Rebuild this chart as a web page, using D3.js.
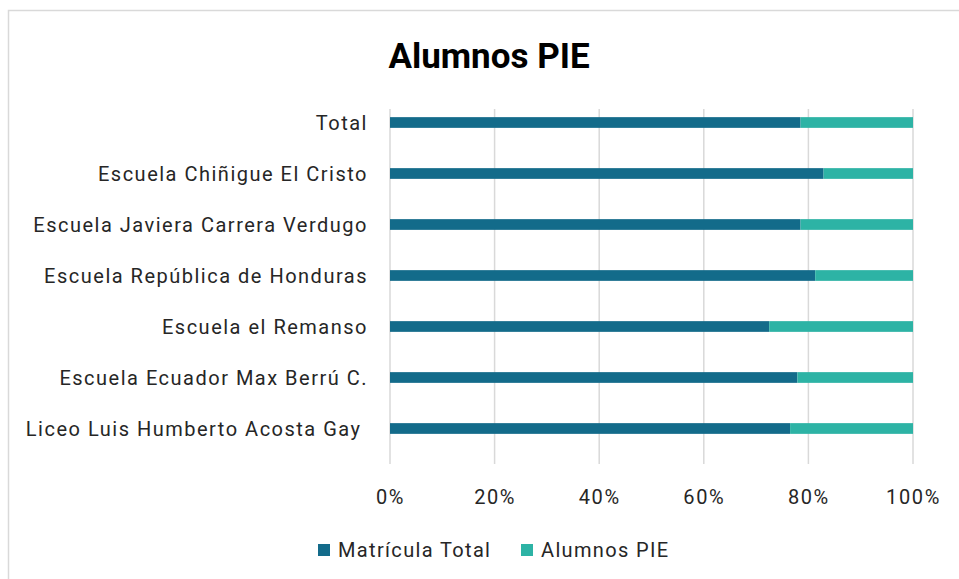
<!DOCTYPE html>
<html>
<head>
<meta charset="utf-8">
<script src="https://cdn.jsdelivr.net/npm/d3@7"></script>
<style>
  body { margin: 0; background: white; }
  svg text { font-family: Roboto, "Noto Sans", sans-serif; fill: #262626; white-space: pre; }
</style>
</head>
<body>
<div id="wykres"></div>
<script>
var escuelas = ["Total", "Escuela Chiñigue El Cristo", "Escuela Javiera Carrera Verdugo",
  "Escuela República de Honduras", "Escuela el Remanso", "Escuela Ecuador Max Berrú C.",
  "Liceo Luis Humberto Acosta Gay "];
var matricula = [78.5, 82.9, 78.5, 81.3, 72.5, 77.9, 76.5];
var pie = [21.5, 17.1, 21.5, 18.7, 27.5, 22.1, 23.5];
var ticks = [0, 20, 40, 60, 80, 100];
var series = ["Matrícula Total", "Alumnos PIE"];
var kolory = ["#136b8a", "#2db3a5"];

var W = 959, H = 579;
var margin = { top: 97, left: 390, right: 46, bottom: 115 };

var svg0 = d3.select("#wykres").append("svg")
  .attr("width", W).attr("height", H);

svg0.append("rect")
  .attr("x", 8.5).attr("y", 10.5)
  .attr("width", 980).attr("height", 600)
  .attr("fill", "white").attr("stroke", "#d9d9d9").attr("stroke-width", 1.5);

svg0.append("text")
  .attr("x", 489).attr("y", 68)
  .attr("text-anchor", "middle")
  .style("font-size", "35px").style("font-weight", "bold")
  .style("fill", "#000")
  .text("Alumnos PIE");

var svg = svg0.append("g")
  .attr("transform", "translate(" + margin.left + "," + margin.top + ")");

var xscale = d3.scaleLinear().domain([0, 100]).range([0, 523]);
var yscale = d3.scaleBand().domain(escuelas).range([0, 357]).paddingInner(0.79).paddingOuter(0.395);

svg.append("g").selectAll("line").data(ticks).enter().append("line")
  .attr("x1", d => xscale(d)).attr("x2", d => xscale(d))
  .attr("y1", 12).attr("y2", 367)
  .attr("stroke", "#d9d9d9").attr("stroke-width", 1.5);

var rows = svg.append("g").selectAll("g").data(escuelas).enter().append("g");

rows.append("rect")
  .attr("x", xscale(0))
  .attr("y", d => yscale(d))
  .attr("width", (d, i) => xscale(matricula[i]))
  .attr("height", yscale.bandwidth())
  .attr("fill", kolory[0]);

rows.append("rect")
  .attr("x", (d, i) => xscale(matricula[i]))
  .attr("y", d => yscale(d))
  .attr("width", (d, i) => xscale(pie[i]))
  .attr("height", yscale.bandwidth())
  .attr("fill", kolory[1]);

var yAxis = svg.append("g")
  .call(d3.axisLeft(yscale).tickSize(0).tickPadding(22));
yAxis.select(".domain").remove();
yAxis.selectAll("text").style("font-size", "20px").attr("dy", "0.35em")
  .style("letter-spacing", "1.5px")
  .style("fill", "#262626").attr("font-family", null);

var xAxis = svg.append("g")
  .attr("transform", "translate(0,400)")
  .call(d3.axisBottom(xscale).tickValues(ticks).tickSize(0).tickPadding(0).tickFormat(d => d + "%"));
xAxis.select(".domain").remove();
xAxis.selectAll("text").style("font-size", "20px").attr("dy", "0.35em")
  .style("letter-spacing", "1.6px")
  .style("fill", "#262626").attr("font-family", null);

var legenda = svg0.append("g").attr("transform", "translate(318,544)");
var lx = [0, 203];
series.forEach(function (s, i) {
  legenda.append("rect").attr("x", lx[i]).attr("y", 0)
    .attr("width", 12).attr("height", 12).attr("fill", kolory[i]);
  legenda.append("text").attr("x", lx[i] + 20).attr("y", 6).attr("dy", "0.35em")
    .style("font-size", "20px").style("letter-spacing", "1.35px").text(s);
});
</script>
</body>
</html>
